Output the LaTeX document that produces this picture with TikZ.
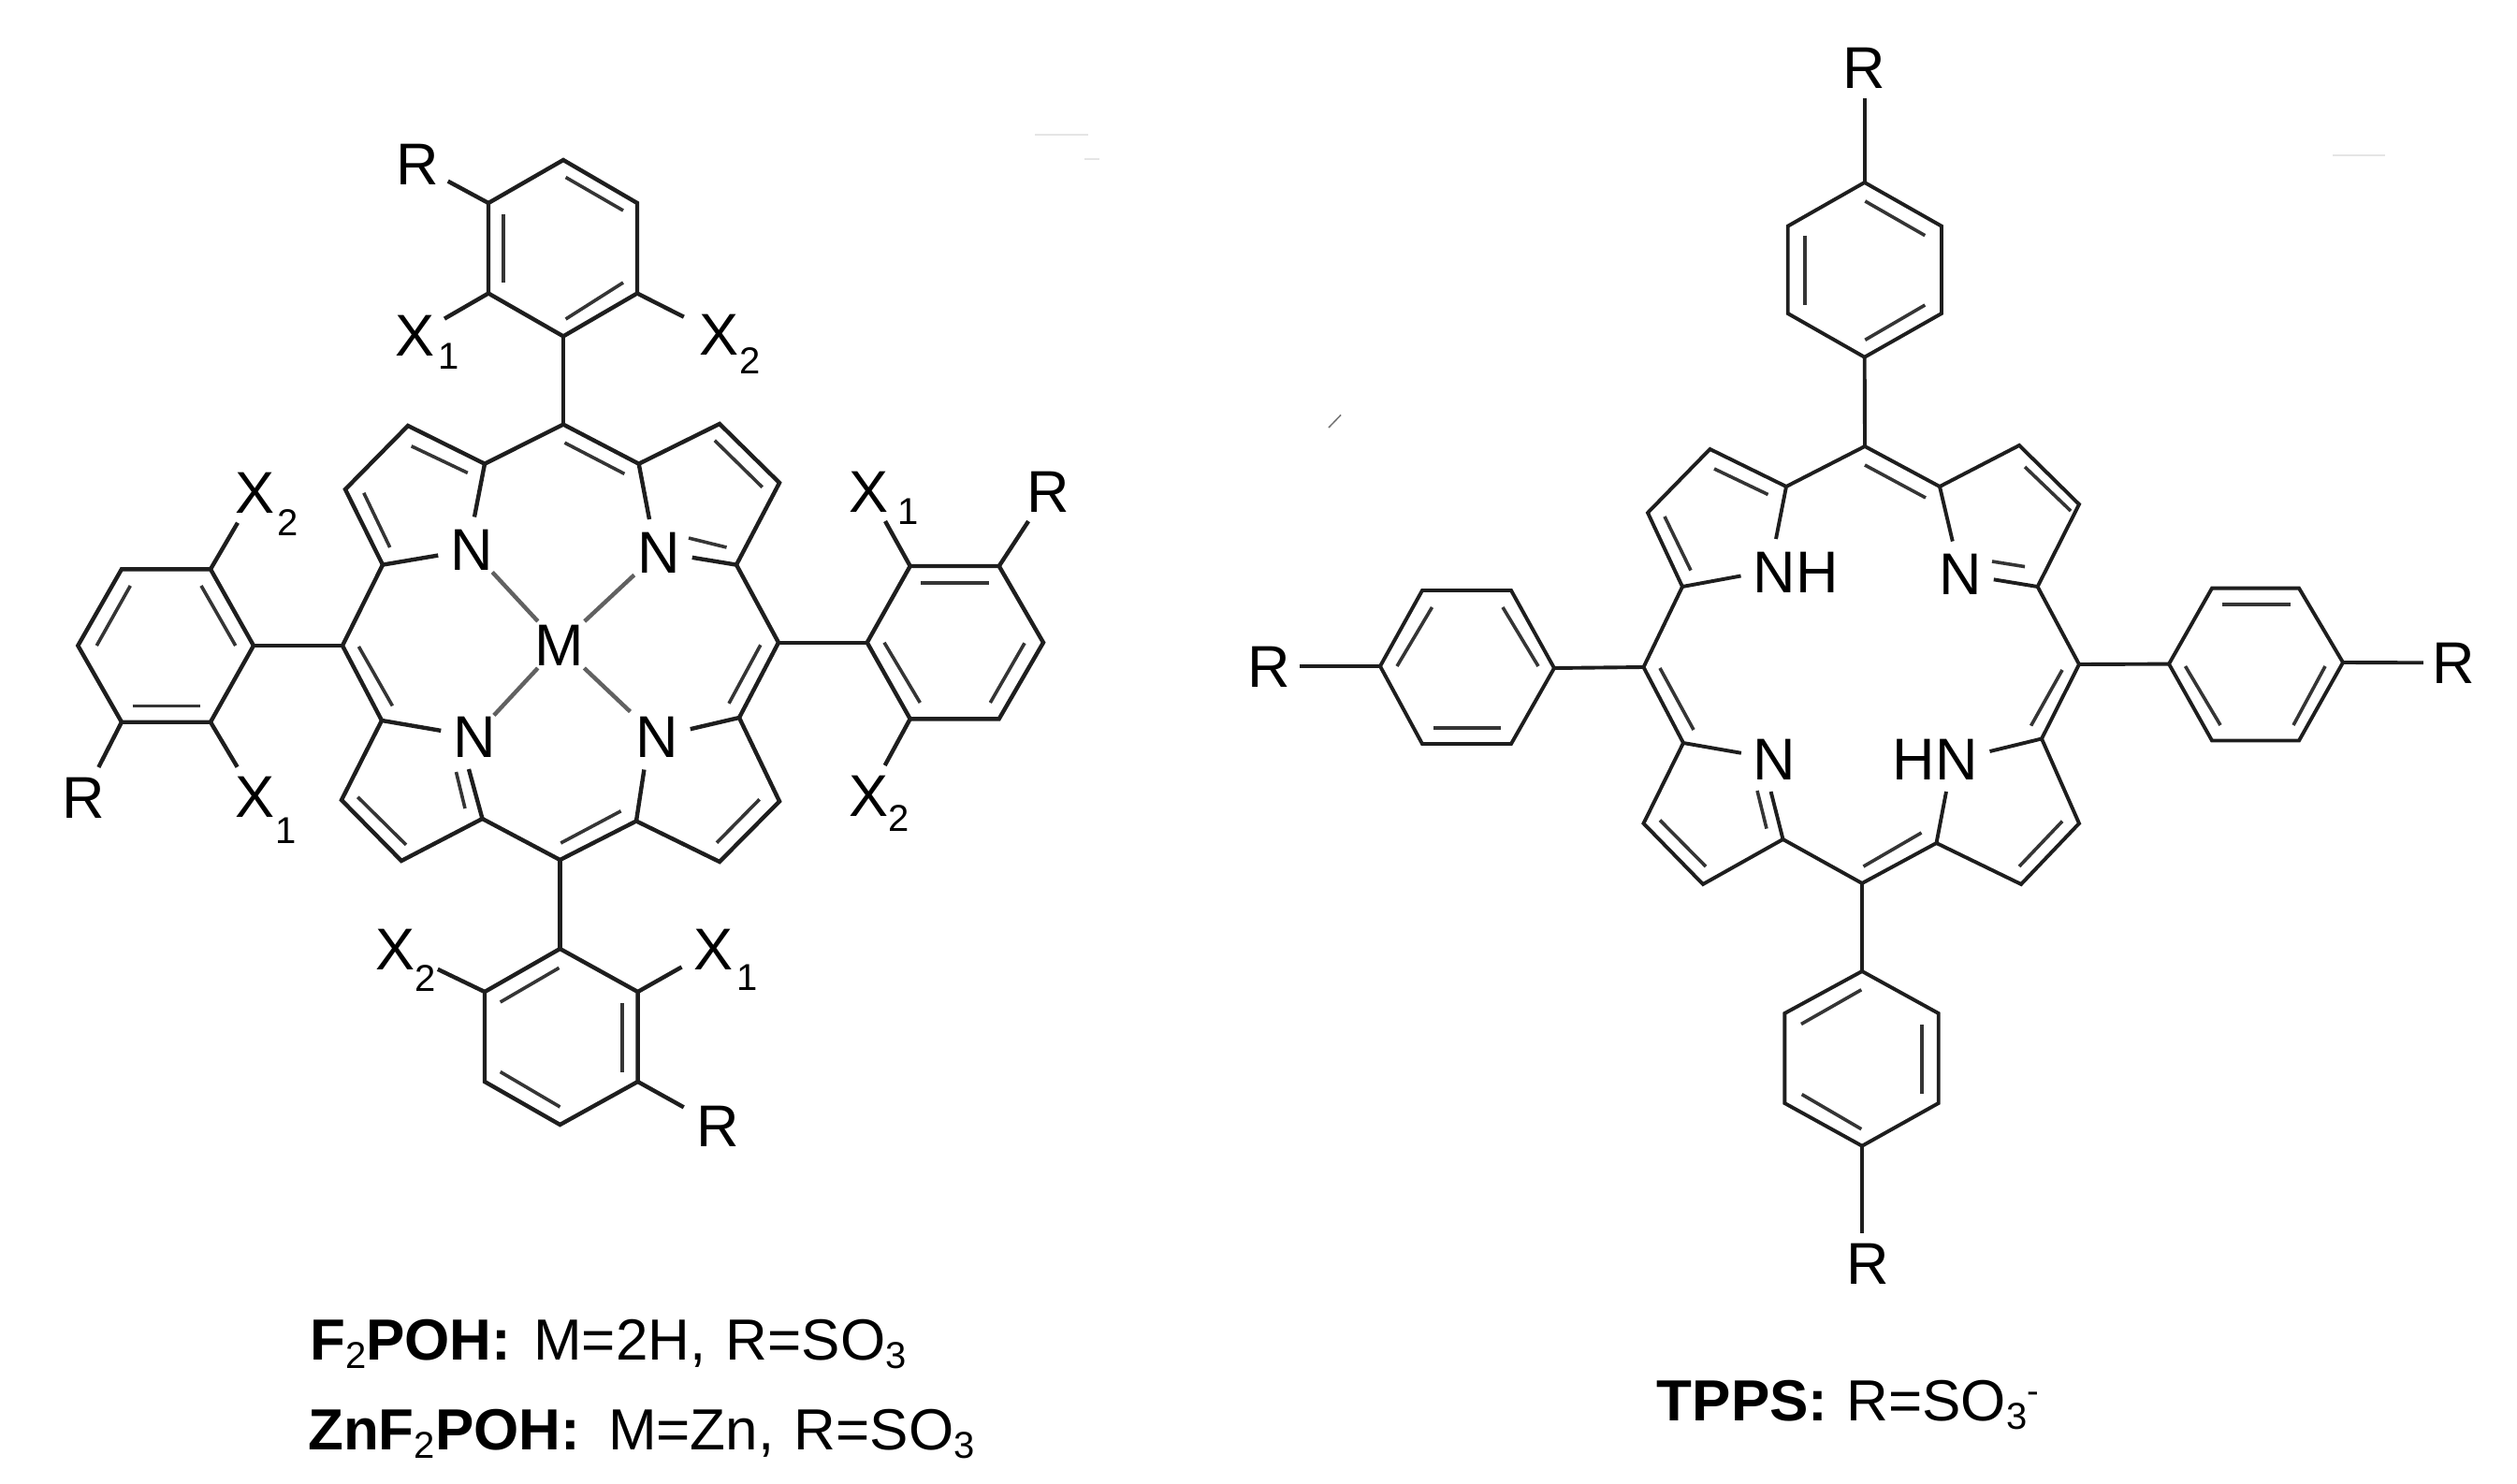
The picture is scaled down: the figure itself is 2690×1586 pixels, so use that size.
\documentclass[tikz,border=0pt]{standalone}
\usepackage{fontspec}
\setmainfont{Liberation Sans}
\newcommand{\mainfs}{\fontsize{62}{70}\selectfont}
\newcommand{\subs}[1]{\raisebox{-9pt}{\fontsize{40}{42}\selectfont\mdseries #1}}
\newcommand{\Xs}[3]{X\rlap{\hspace{#1pt}\raisebox{-#2pt}{\fontsize{40}{42}\selectfont #3}}}
\definecolor{ink}{HTML}{1E1E1E}
\tikzset{
  bond/.style={line width=4.4pt,draw=ink,line join=miter,line cap=butt},
  thinbond/.style={line width=3.9pt,draw=ink,line join=miter,line cap=butt},
  innerbond/.style={line width=3.6pt,draw=ink!90,line cap=butt},
  metalbond/.style={line width=4.4pt,draw=black!62,line cap=butt},
  atomlabel/.style={font=\fontsize{63}{70}\selectfont,text=black,inner xsep=10pt,inner ysep=10pt,text height=44pt,text depth=0pt,outer sep=0pt},
  nlabel/.style={atomlabel,inner xsep=13pt,inner ysep=13pt},
  caption/.style={font=\mainfs,text=black,anchor=base west,inner sep=0pt},
  speck/.style={line width=2pt,draw=black!10}
}
\newcommand{\inln}[3]{\coordinate (#1s) at (#2); \coordinate (#1e) at (#3); \draw[innerbond] (#1s) -- (#1e);}
\begin{document}
\begin{tikzpicture}[x=1pt,y=-1pt]
\useasboundingbox (0,0) rectangle (2690,1586);
% ---------- left molecule: porphyrin vertices
\coordinate (mt) at (602,453.6); \coordinate (ml) at (366,690); \coordinate (mb) at (598.5,919); \coordinate (mr) at (832,686.7);
\coordinate (a1) at (518,495.7); \coordinate (b1) at (436,455); \coordinate (b2) at (369,523); \coordinate (a2) at (409,603.6);
\coordinate (a3) at (408,770); \coordinate (b3) at (365,855); \coordinate (b4) at (429,920); \coordinate (a4) at (515.5,875);
\coordinate (a5) at (680,877.5); \coordinate (b5) at (769,921); \coordinate (b6) at (833,856.4); \coordinate (a6) at (790,767);
\coordinate (a7) at (787,603.6); \coordinate (b7) at (833,516); \coordinate (b8) at (769,453); \coordinate (a8) at (682.7,495.7);
\node[nlabel] (N1) at (504,587.5) {N};
\node[nlabel] (N2) at (704,590) {N};
\node[nlabel] (N3) at (507,787) {N};
\node[nlabel] (N4) at (702,787.5) {N};
\node[atomlabel,inner xsep=3pt,inner ysep=3pt] (M) at (598,689) {M};
\draw[bond] (N1.north -| 507,0) -- (a1) -- (mt) -- (a8) -- (N2.north -| 694,0);
\draw[bond] (N1) -- (a2) -- (b2) -- (b1) -- (a1);
\draw[bond] (a2) -- (ml) -- (a3) -- (N3);
\draw[bond] (a3) -- (b3) -- (b4) -- (a4) -- (N3.south -| 501,0);
\draw[bond] (a4) -- (mb) -- (a5) -- (N4.south -| 688.4,0);
\draw[bond] (a5) -- (b5) -- (b6) -- (a6) -- (N4);
\draw[bond] (a6) -- (mr) -- (a7) -- (N2);
\draw[bond] (a7) -- (b7) -- (b8) -- (a8);
\draw[metalbond,shorten >=-15pt] (M) -- (N1);
\draw[metalbond,shorten >=-13pt] (M) -- (N2);
\draw[metalbond,shorten >=-17pt] (M) -- (N3);
\draw[metalbond,shorten >=-10pt] (M) -- (N4);
\inln{pi1}{439.7,476.8}{499.8,505.4}
\inln{pi2}{388.8,526.8}{416.7,585}
\inln{pi3}{603.5,473.2}{667.4,506.4}
\inln{pi4}{763.8,470.7}{814.7,520.7}
\inln{pi5}{812.8,689.3}{779,751.8}
\inln{pi6}{383.4,691}{419.4,754.3}
\inln{pi7}{382.3,851.8}{434,902.9}
\inln{pi8}{811.7,854.3}{766,900.7}
\inln{pi9}{599.3,901}{663.6,866.8}
\inln{pi10}{736,575}{776.5,585}
\inln{pi11}{487.5,825}{497,864}
% top aryl
\coordinate (t1) at (602,171); \coordinate (t2) at (681,217); \coordinate (t3) at (681,313.5); \coordinate (t4) at (602,359.4); \coordinate (t5) at (522,313.5); \coordinate (t6) at (522,217);
\draw[bond] (t1) -- (t2) -- (t3) -- (t4) -- (t5) -- (t6) -- cycle;
\draw[bond] (t4) -- (mt);
\node[atomlabel] (tR) at (446,176) {R};
\node[atomlabel] (tX1) at (444,358.5) {\Xs{3}{14}{1}};
\node[atomlabel] (tX2) at (769,358) {\Xs{0}{20}{2}};
\draw[bond] (t6) -- (tR);
\draw[bond] (t5) -- (tX1);
\draw[bond,shorten >=8pt] (t3) -- (tX2);
\inln{ti1}{538,228.6}{538,302}
\inln{ti2}{604.6,189.5}{666,225}
\inln{ti3}{604.6,341}{666,302}
% left aryl
\coordinate (l1) at (271,690); \coordinate (l2) at (225,608.3); \coordinate (l3) at (130,608.3); \coordinate (l4) at (83.3,690); \coordinate (l5) at (130,771.7); \coordinate (l6) at (225,771.7);
\draw[bond] (l1) -- (l2) -- (l3) -- (l4) -- (l5) -- (l6) -- cycle;
\draw[bond] (l1) -- (ml);
\node[atomlabel] (lR) at (89,852) {R};
\node[atomlabel] (lX2) at (272.7,526.7) {\Xs{3}{24}{2}};
\node[atomlabel] (lX1) at (272.7,851.7) {\Xs{1}{28}{1}};
\draw[bond] (l5) -- (lR);
\draw[bond] (l2) -- (lX2);
\draw[bond] (l6) -- (lX1);
\inln{li1}{139.3,626}{103.3,690}
\inln{li2}{215,626}{251.7,690}
\inln{li3}{141.7,754.3}{214,754.3}
% right aryl
\coordinate (r1) at (926.7,686.7); \coordinate (r2) at (972.7,605); \coordinate (r3) at (1067.7,605); \coordinate (r4) at (1115,686.7); \coordinate (r5) at (1067.7,768.3); \coordinate (r6) at (972.7,768.3);
\draw[bond] (r1) -- (r2) -- (r3) -- (r4) -- (r5) -- (r6) -- cycle;
\draw[bond] (r1) -- (mr);
\node[atomlabel] (rR) at (1120,525) {R};
\node[atomlabel] (rX1) at (928.3,525) {\Xs{10}{13}{1}};
\node[atomlabel] (rX2) at (928.3,850) {\Xs{0}{16}{2}};
\draw[bond] (r3) -- (rR);
\draw[bond] (r2) -- (rX1);
\draw[bond] (r6) -- (rX2);
\inln{ri1}{984.3,622.7}{1057.3,622.7}
\inln{ri2}{945,686.7}{983.3,751}
\inln{ri3}{1095,687.3}{1058.3,751}
% bottom aryl
\coordinate (u1) at (598.5,1014); \coordinate (u2) at (681.6,1060); \coordinate (u3) at (681.6,1156); \coordinate (u4) at (598.5,1202); \coordinate (u5) at (518,1156); \coordinate (u6) at (518,1060);
\draw[bond] (u1) -- (u2) -- (u3) -- (u4) -- (u5) -- (u6) -- cycle;
\draw[bond] (u1) -- (mb);
\node[atomlabel] (uR) at (767,1203.5) {R};
\node[atomlabel] (uX2) at (422.4,1014) {\Xs{0}{23}{2}};
\node[atomlabel] (uX1) at (763,1014) {\Xs{3}{22}{1}};
\draw[bond,shorten >=4pt] (u3) -- (uR);
\draw[bond,shorten >=16pt] (u6) -- (uX2);
\draw[bond,shorten >=4pt] (u2) -- (uX1);
\inln{ui1}{534.7,1071}{597.5,1034.4}
\inln{ui2}{665,1072}{665,1145.5}
\inln{ui3}{534.7,1145.5}{598.5,1183}
% captions left
\node[caption] (cap1) at (331,1453) {{\bfseries F\subs{2}POH:}\hspace{24pt}M=2H,\hspace{4pt} R=SO\subs{3}};
\node[caption] (cap2) at (329,1549) {{\bfseries ZnF\subs{2}POH:}\hspace{30pt}M=Zn,\hspace{4pt} R=SO\subs{3}};
% ---------- right molecule: porphyrin vertices
\coordinate (Mt) at (1993,477); \coordinate (Ml) at (1756.5,713); \coordinate (Mb) at (1990,944); \coordinate (Mr) at (2222,710);
\coordinate (A1) at (1909,520); \coordinate (B1) at (1827.5,480); \coordinate (B2) at (1761,548); \coordinate (A2) at (1798,627);
\coordinate (A3) at (1799,794); \coordinate (B3) at (1756.5,880); \coordinate (B4) at (1820,945); \coordinate (A4) at (1905.5,897);
\coordinate (A5) at (2069.5,901); \coordinate (B5) at (2160,945); \coordinate (B6) at (2222,880); \coordinate (A6) at (2182,789.5);
\coordinate (A7) at (2177.6,627); \coordinate (B7) at (2222,539); \coordinate (B8) at (2158,476); \coordinate (A8) at (2073,520);
\node[nlabel] (NH) at (1919,611) {NH};
\node[nlabel] (Na) at (2095,613.5) {N};
\node[nlabel] (Nb) at (1896.6,811) {N};
\node[nlabel] (HN) at (2068,811) {HN};
\draw[thinbond] ([xshift=-21pt]NH.north) -- (A1) -- (Mt) -- (A8) -- (Na);
\draw[thinbond] ([yshift=-4.5pt]NH.west) -- (A2) -- (B2) -- (B1) -- (A1);
\draw[thinbond] (A2) -- (Ml) -- (A3) -- (Nb);
\draw[thinbond] (A3) -- (B3) -- (B4) -- (A4) -- ([xshift=-4pt]Nb.south);
\draw[thinbond] (A4) -- (Mb) -- (A5) -- ([xshift=12pt]HN.south);
\draw[thinbond] (A5) -- (B5) -- (B6) -- (A6) -- ([yshift=8pt]HN.east);
\draw[thinbond] (A6) -- (Mr) -- (A7) -- (Na);
\draw[thinbond] (A7) -- (B7) -- (B8) -- (A8);
\inln{Pi1}{1832,501}{1889.5,528.5}
\inln{Pi2}{1779,552}{1807,609.6}
\inln{Pi3}{1993,497}{2058,532}
\inln{Pi4}{2164,499}{2213,546}
\inln{Pi5}{1774,714}{1810,780}
\inln{Pi6}{2204,716}{2170.6,775.6}
\inln{Pi7}{1774,876.5}{1823,926}
\inln{Pi8}{1991.5,926}{2053.5,890}
\inln{Pi9}{2204,877.7}{2158,926}
\inln{Pi10}{2129,600}{2164,605.6}
\inln{Pi11}{1888,885.6}{1878,845}
% top phenyl
\coordinate (T1) at (1992.7,195); \coordinate (T2) at (2075,241.7); \coordinate (T3) at (2075,335); \coordinate (T4) at (1992.7,381.7); \coordinate (T5) at (1910.7,335); \coordinate (T6) at (1910.7,241.7);
\draw[thinbond] (T1) -- (T2) -- (T3) -- (T4) -- (T5) -- (T6) -- cycle;
\draw[thinbond] (T4) -- (Mt);
\node[atomlabel] (TR) at (1992.7,73) {R};
\draw[thinbond] (T1) -- (TR);
\inln{Ti1}{1993.3,215}{2057.3,251.7}
\inln{Ti2}{1929,251.7}{1929,326}
\inln{Ti3}{1993.3,363.3}{2057.3,326}
% left phenyl
\coordinate (L1) at (1661,714); \coordinate (L2) at (1615,631); \coordinate (L3) at (1520,631); \coordinate (L4) at (1475,712); \coordinate (L5) at (1520,795); \coordinate (L6) at (1615,795);
\draw[thinbond] (L1) -- (L2) -- (L3) -- (L4) -- (L5) -- (L6) -- cycle;
\draw[thinbond] (L1) -- (Ml);
\node[atomlabel] (LR) at (1356,712) {R};
\draw[thinbond] (L4) -- (LR);
\inln{Li1}{1530.5,649}{1493,712}
\inln{Li2}{1606,649}{1644,712}
\inln{Li3}{1532,778}{1604,778}
% right phenyl
\coordinate (R1) at (2318,709.6); \coordinate (R2) at (2364,628.6); \coordinate (R3) at (2457,628.6); \coordinate (R4) at (2504,708); \coordinate (R5) at (2457,791.5); \coordinate (R6) at (2364,791.5);
\draw[thinbond] (R1) -- (R2) -- (R3) -- (R4) -- (R5) -- (R6) -- cycle;
\draw[thinbond] (R1) -- (Mr);
\node[atomlabel] (RR) at (2622.7,708.4) {R};
\draw[thinbond] (R4) -- (RR);
\inln{Ri1}{2375,646}{2448,646}
\inln{Ri2}{2335.5,712}{2373,775}
\inln{Ri3}{2485,712}{2451,775}
% bottom phenyl
\coordinate (U1) at (1990,1038); \coordinate (U2) at (2071.7,1083); \coordinate (U3) at (2071.7,1179); \coordinate (U4) at (1990,1224.7); \coordinate (U5) at (1907.3,1179); \coordinate (U6) at (1907.3,1083);
\draw[thinbond] (U1) -- (U2) -- (U3) -- (U4) -- (U5) -- (U6) -- cycle;
\draw[thinbond] (U1) -- (Mb);
\node[atomlabel] (UR) at (1996.7,1350) {R};
\draw[thinbond] (U4) -- (U4 |- UR.north);
\inln{Ui1}{1925,1094.5}{1989.3,1057.8}
\inln{Ui2}{2054,1095}{2054,1169}
\inln{Ui3}{1925.7,1169.6}{1989.3,1206.7}
\node[caption] (cap3) at (1770.7,1518) {{\bfseries TPPS:}\hspace{20pt}R=SO\subs{3}\raisebox{19pt}{\fontsize{38}{40}\selectfont -}};
% scan specks
\coordinate (s1a) at (1106,144); \coordinate (s1b) at (1163,144); \draw[speck] (s1a) -- (s1b);
\coordinate (s2a) at (1159,170); \coordinate (s2b) at (1175,170); \draw[speck] (s2a) -- (s2b);
\coordinate (s3a) at (2493,166); \coordinate (s3b) at (2549,166); \draw[speck] (s3a) -- (s3b);
\coordinate (s4a) at (1433,443.5); \coordinate (s4b) at (1420,457); \draw[line width=1.5pt,draw=black!55] (s4a) -- (s4b);
\end{tikzpicture}
\end{document}
